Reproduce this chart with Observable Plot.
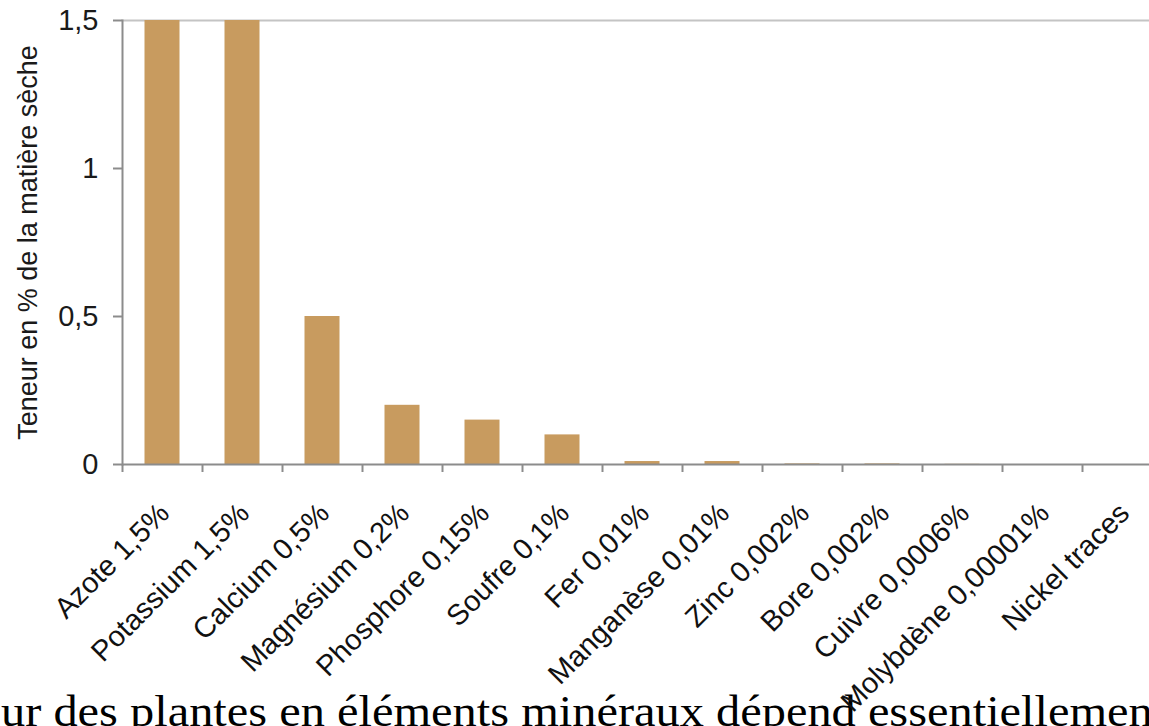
<!DOCTYPE html>
<html><head><meta charset="utf-8">
<script src="https://cdn.jsdelivr.net/npm/d3@7"></script>
<script src="https://cdn.jsdelivr.net/npm/@observablehq/plot@0.6"></script>
<style>
html,body{margin:0;padding:0;background:#fff;overflow:hidden;}
#wrap{position:relative;width:1149px;height:726px;overflow:hidden;}
#caption{position:absolute;left:1px;top:688px;font-family:"Liberation Serif","Times New Roman",serif;font-size:44px;line-height:48px;white-space:nowrap;color:#000;transform:scaleX(1.10);transform-origin:left top;}
#chart{position:absolute;left:0;top:0;}
</style></head><body>
<div id="wrap"><div id="caption"></div><div id="chart"></div></div>
<script>
const elements = ["Azote 1,5%", "Potassium 1,5%", "Calcium 0,5%", "Magnésium 0,2%", "Phosphore 0,15%", "Soufre 0,1%", "Fer 0,01%", "Manganèse 0,01%", "Zinc 0,002%", "Bore 0,002%", "Cuivre 0,0006%", "Molybdène 0,00001%", "Nickel traces"];
const values = [1.5, 1.5, 0.5, 0.2, 0.15, 0.1, 0.01, 0.01, 0.002, 0.002, 0.0006, 0.00001, 0];
const yTicks = [0, 0.5, 1, 1.5];
const yLabel = "Teneur en % de la matière sèche";
const captionText = "ur des plantes en éléments minéraux dépend essentiellement";

document.getElementById("caption").textContent = captionText;
const data = elements.map((name, i) => ({name, value: values[i]}));
const fr = d => String(d).replace(".", ",");

const plot = Plot.plot({
  width: 1149, height: 726,
  marginLeft: 122, marginRight: -13, marginTop: 20, marginBottom: 262,
  style: {background: "transparent", fontFamily: "'Liberation Sans', Arial, sans-serif", overflow: "visible", maxWidth: "none"},
  x: {domain: elements, padding: 0, axis: null},
  y: {domain: [0, 1.5], axis: null},
  marks: [
    Plot.ruleY([1.5], {stroke: "#c4c4c4", strokeWidth: 2}),
    Plot.barY(data, {x: "name", y: "value", fill: "#C89B5F", insetLeft: 22.5, insetRight: 22.5}),
    Plot.ruleY([0], {stroke: "#8c8c8c", strokeWidth: 2}),
    Plot.frame({anchor: "left", stroke: "#8c8c8c", strokeWidth: 2}),
    Plot.axisY({ticks: yTicks, tickSize: 9, tickPadding: 15, tickFormat: fr, fontSize: 29, stroke: "#8c8c8c", strokeWidth: 2, fill: "#1a1a1a", label: null}),
    Plot.axisY({ticks: [], tickSize: 0, fontSize: 27, fill: "#1a1a1a",
      label: yLabel, labelAnchor: "center", labelArrow: "none", labelOffset: 105}),
    Plot.axisX({tickSize: 8, tickFormat: () => "", dx: -40, stroke: "#8c8c8c", strokeWidth: 2, label: null}),
    Plot.axisX({tickSize: 0, tickRotate: -45, tickPadding: 14, dx: 2, dy: 30, fontSize: 29, fill: "#111", label: null})
  ]
});
document.getElementById("chart").appendChild(plot);
</script>
</body></html>
